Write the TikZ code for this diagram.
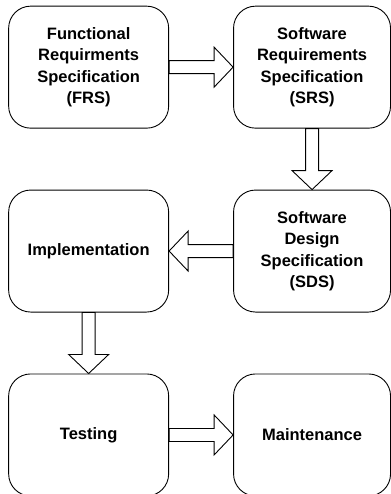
\documentclass[tikz,border=0pt]{standalone}
\usepackage{fontspec}
\setmainfont{Liberation Sans}
\usetikzlibrary{calc,matrix}

\tikzset{
  stage/.style={draw, shape=rectangle, rounded corners=22pt, line width=.9pt,
    minimum height=122pt, inner sep=2pt, align=center,
    font=\fontsize{16.5}{21.5}\selectfont\bfseries},
  wide/.style={stage, minimum width=160pt},
  narrow/.style={stage, minimum width=157pt},
  % hollow block arrow from start to target
  blockarrow/.style={draw, line width=.9pt, line join=miter, to path={
    ($(\tikztostart)!6.5pt!90:(\tikztotarget)$)
    -- ($($(\tikztotarget)!19pt!(\tikztostart)$)!6.5pt!90:(\tikztotarget)$)
    -- ($($(\tikztotarget)!19pt!(\tikztostart)$)!20pt!90:(\tikztotarget)$)
    -- (\tikztotarget)
    -- ($($(\tikztotarget)!19pt!(\tikztostart)$)!20pt!-90:(\tikztotarget)$)
    -- ($($(\tikztotarget)!19pt!(\tikztostart)$)!6.5pt!-90:(\tikztotarget)$)
    -- ($(\tikztostart)!6.5pt!-90:(\tikztotarget)$)
    -- cycle}}
}

\begin{document}
\begin{tikzpicture}
  \useasboundingbox (0,0) rectangle (390pt,-494pt);
  \matrix [column sep=64pt,row sep=61pt,inner sep=0pt,anchor=north west] at (8pt,-5.5pt) {
    \node[wide] (frs) {Functional\\Requirments\\Specification\\(FRS)};
    & \node[narrow] (srs) {Software\\Requirements\\Specification\\(SRS)}; \\
    \node[wide] (impl) {Implementation};
    & \node[narrow] (sds) {Software\\Design\\Specification\\(SDS)}; \\
    \node[wide] (test) {Testing};
    & \node[narrow] (maint) {Maintenance}; \\
  };
  \path (frs.east)  edge[blockarrow] (srs.west);
  \path (srs.south) edge[blockarrow] (sds.north);
  \path (sds.west)  edge[blockarrow] (impl.east);
  \path (impl.south) edge[blockarrow] (test.north);
  \path (test.east) edge[blockarrow] (maint.west);
\end{tikzpicture}
\end{document}
